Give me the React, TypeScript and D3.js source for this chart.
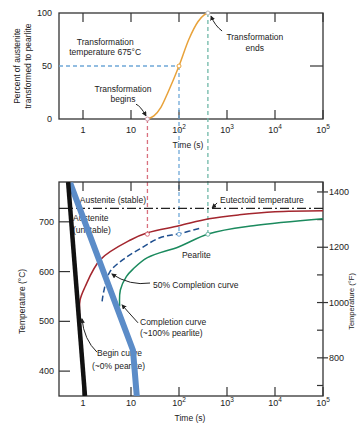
import React from 'react';
import * as d3 from 'd3';

// axes
const decades = [1, 10, 100, 1000, 10000, 100000];
const pctTicks = [0, 50, 100];
const tempTicksC = [400, 500, 600, 700];
const tempTicksF = [700, 800, 900, 1000, 1100, 1200, 1300, 1400];

// top panel: isothermal transformation at 675 °C
const isoTime = [22, 30, 42, 60, 100, 160, 250, 330, 400];
const isoPct = [0, 3, 11, 26, 50, 75, 92, 98, 100];
const isoTemp = 675;
const beginAt = 22;
const halfAt = 100;
const endAt = 400;

// bottom panel: TTT curves
const beginTime = [0.85, 0.87, 1.1, 2.3, 10, 22, 100, 420, 1800, 10000, 100000];
const beginTemp = [510, 543, 569, 624, 664, 678, 692, 706, 714, 720, 722];
const halfTime = [2.5, 2.7, 3.6, 6.8, 15, 40, 100, 300];
const halfTemp = [540, 560, 599, 624, 645, 668, 676, 688];
const endTime = [5.8, 6.0, 8, 11, 22, 100, 420, 3500, 100000];
const endTemp = [530, 563, 590, 605, 628, 650, 676, 692, 706];
const eutectoid = 727;

// cooling paths
const coolATime = [0.49, 1.1];
const coolATemp = [780, 350];
const coolBTime = [0.54, 11, 13.3];
const coolBTemp = [778, 442, 346];

const font = 'Liberation Sans, Arial, sans-serif';
const W = 358;
const H = 427;

const x = d3.scaleLog().domain([10 ** -0.5, 1e5]).range([59, 323]);
const yTop = d3.scaleLinear().domain([0, 100]).range([119, 13]);
const yBot = d3.scaleLinear().domain([350, 780]).range([396, 182]);
const fToC = (f: number) => (f - 32) * 5 / 9;

const zip = (a: number[], b: number[]) => a.map((v, i) => [v, b[i]] as [number, number]);

const botLine = d3.line<[number, number]>()
  .x(d => x(d[0]))
  .y(d => yBot(d[1]))
  .curve(d3.curveCatmullRom.alpha(0.5));
const topLine = d3.line<[number, number]>()
  .x(d => x(d[0]))
  .y(d => yTop(d[1]))
  .curve(d3.curveMonotoneX);
const straight = d3.line<[number, number]>()
  .x(d => x(d[0]))
  .y(d => yBot(d[1]));

const tickLabel = (d: number) => {
  if (d === 1) return <tspan>1</tspan>;
  if (d === 10) return <tspan>10</tspan>;
  return (
    <>
      <tspan>10</tspan>
      <tspan dy={-4} fontSize={6.5}>{Math.round(Math.log10(d))}</tspan>
    </>
  );
};

// leader: [from, control, to] in (time, value)
const leader = (pts: [number, number][], y: (v: number) => number) => {
  const p = pts.map(([t, v]) => [x(t), y(v)]);
  return `M${p[0][0]},${p[0][1]} Q${p[1][0]},${p[1][1]} ${p[2][0]},${p[2][1]}`;
};

const App = () => {
  const xAxisTicks = (y0: number, y1: number, labelY: number, key: string) => (
    <g key={key}>
      {decades.map(d => (
        <g key={d}>
          <line x1={x(d)} x2={x(d)} y1={y0} y2={y0 + 9} stroke="#333" strokeWidth={1.2} />
          <line x1={x(d)} x2={x(d)} y1={y1} y2={y1 - 9} stroke="#333" strokeWidth={1.2} />
          <text x={x(d)} y={labelY} textAnchor="middle" fontSize={9} fill="#222">{tickLabel(d)}</text>
        </g>
      ))}
    </g>
  );

  const dot = (cx: number, cy: number, color: string, key: string) => (
    <circle key={key} cx={cx} cy={cy} r={2} fill="#fff" stroke={color} strokeWidth={1} />
  );

  const pink = '#d9707e';
  const lblue = '#6fa8d8';
  const teal = '#6fb8a8';

  return (
    <svg width={W} height={H} style={{ position: 'fixed', left: 0, top: 0, background: '#fff' }} fontFamily={font}>
      <defs>
        <marker id="arr" viewBox="0 0 6 6" refX={5} refY={3} markerWidth={5} markerHeight={5} orient="auto">
          <path d="M0,0 L6,3 L0,6 z" fill="#222" />
        </marker>
        <clipPath id="botClip">
          <rect x={x.range()[0]} y={yBot.range()[1]} width={x.range()[1] - x.range()[0]} height={yBot.range()[0] - yBot.range()[1]} />
        </clipPath>
      </defs>

      {/* ---------- top panel ---------- */}
      <rect x={59} y={yTop(100)} width={264} height={yTop(0) - yTop(100)} fill="none" stroke="#333" strokeWidth={1.3} />
      {xAxisTicks(yTop(100), yTop(0), 133, 'topx')}
      <line x1={323} x2={310} y1={yTop(50)} y2={yTop(50)} stroke="#333" strokeWidth={1.2} />
      {pctTicks.map(p => (
        <text key={p} x={52} y={yTop(p) + 3} textAnchor="end" fontSize={9} fill="#222">{p}</text>
      ))}
      <text transform={`translate(20,${yTop(50)}) rotate(-90)`} textAnchor="middle" fontSize={8.5} fill="#222">Percent of austenite</text>
      <text transform={`translate(31,${yTop(50)}) rotate(-90)`} textAnchor="middle" fontSize={8.5} fill="#222">transformed to pearlite</text>
      <text x={188} y={148} textAnchor="middle" fontSize={8.5} fill="#222">Time (s)</text>

      {/* guide lines linking the panels */}
      <line x1={59} x2={x(halfAt)} y1={yTop(50)} y2={yTop(50)} stroke={lblue} strokeWidth={1.3} strokeDasharray="4,3" />
      <line x1={x(beginAt)} x2={x(beginAt)} y1={yTop(0)} y2={yBot(isoTemp)} stroke={pink} strokeWidth={1.3} strokeDasharray="4,3" />
      <line x1={x(halfAt)} x2={x(halfAt)} y1={yTop(50)} y2={yBot(isoTemp)} stroke={lblue} strokeWidth={1.3} strokeDasharray="4,3" />
      <line x1={x(endAt)} x2={x(endAt)} y1={yTop(100)} y2={yBot(isoTemp)} stroke={teal} strokeWidth={1.3} strokeDasharray="4,3" />

      <path d={topLine(zip(isoTime, isoPct)) || ''} fill="none" stroke="#e8a23a" strokeWidth={1.5} />
      {dot(x(beginAt), yTop(0), '#c9a', 'tb')}
      {dot(x(halfAt), yTop(50), '#e8a23a', 'th')}
      {dot(x(endAt), yTop(100), '#bbb', 'te')}

      <g fontSize={8.5} fill="#222" textAnchor="middle">
        <text x={x(2.9)} y={yTop(70)}>Transformation</text>
        <text x={x(2.9)} y={yTop(60.5)}>temperature 675°C</text>
        <text x={x(6.8)} y={yTop(25.5)}>Transformation</text>
        <text x={x(6.8)} y={yTop(16)}>begins</text>
        <text x={x(3800)} y={yTop(74.5)}>Transformation</text>
        <text x={x(3800)} y={yTop(64)}>ends</text>
      </g>
      <path d={leader([[12.7, 14], [16, 12], [20.5, 3]], yTop)} fill="none" stroke="#222" strokeWidth={1} markerEnd="url(#arr)" />
      <path d={leader([[790, 83], [560, 88], [465, 97]], yTop)} fill="none" stroke="#222" strokeWidth={1} markerEnd="url(#arr)" />

      {/* ---------- bottom panel ---------- */}
      <rect x={59} y={yBot(780)} width={264} height={yBot(350) - yBot(780)} fill="none" stroke="#333" strokeWidth={1.3} />
      {xAxisTicks(yBot(780), yBot(350), 406, 'botx')}
      <text x={190} y={421} textAnchor="middle" fontSize={8.5} fill="#222">Time (s)</text>
      {tempTicksC.map(t => (
        <g key={t}>
          <line x1={59} x2={70} y1={yBot(t)} y2={yBot(t)} stroke="#333" strokeWidth={1.2} />
          <text x={54} y={yBot(t) + 3} textAnchor="end" fontSize={9} fill="#222">{t}</text>
        </g>
      ))}
      <text transform={`translate(25,${yBot(540)}) rotate(-90)`} textAnchor="middle" fontSize={8.5} fill="#222">Temperature (°C)</text>
      {tempTicksF.map(f => (
        <g key={f}>
          <line x1={317} x2={f % 200 === 0 ? 328 : 323} y1={yBot(fToC(f))} y2={yBot(fToC(f))} stroke="#333" strokeWidth={1.2} />
          {f % 200 === 0 && (
            <text x={329} y={yBot(fToC(f)) + 3} fontSize={9} fill="#222">{f}</text>
          )}
        </g>
      ))}
      <text transform={`translate(354,${yBot(540)}) rotate(-90)`} textAnchor="middle" fontSize={7.5} fill="#222">Temperature (°F)</text>

      <g fontSize={8.5} fill="#222">
        <text x={x(4.2)} y={yBot(738)} textAnchor="middle">Austenite (stable)</text>
        <text x={x(718)} y={yBot(738)}>Eutectoid temperature</text>
        <text x={x(0.62)} y={yBot(701)}>Austenite</text>
        <text x={x(0.62)} y={yBot(678)}>(unstable)</text>
        <text x={x(115)} y={yBot(627)}>Pearlite</text>
        <text x={x(28.7)} y={yBot(568)}>50% Completion curve</text>
        <text x={x(15.4)} y={yBot(492)}>Completion curve</text>
        <text x={x(15.4)} y={yBot(470)}>(~100% pearlite)</text>
        <text x={x(1.96)} y={yBot(430)}>Begin curve</text>
        <text x={x(1.54)} y={yBot(404)}>(~0% pearlite)</text>
      </g>

      <g clipPath="url(#botClip)">
        <line x1={59} x2={323} y1={yBot(eutectoid)} y2={yBot(eutectoid)} stroke="#222" strokeWidth={1.2} strokeDasharray="9,3,2,3" />
        <path d={botLine(zip(beginTime, beginTemp)) || ''} fill="none" stroke="#a3262e" strokeWidth={1.5} />
        <path d={botLine(zip(halfTime, halfTemp)) || ''} fill="none" stroke="#1f4f8f" strokeWidth={1.5} strokeDasharray="6,3" />
        <path d={botLine(zip(endTime, endTemp)) || ''} fill="none" stroke="#1b8a5e" strokeWidth={1.5} />
        <path d={straight(zip(coolBTime, coolBTemp)) || ''} fill="none" stroke="#5b8cc8" strokeWidth={6} strokeLinejoin="round" />
        <path d={straight(zip(coolATime, coolATemp)) || ''} fill="none" stroke="#111" strokeWidth={4.5} />
      </g>
      {dot(x(beginAt), yBot(isoTemp), pink, 'bb')}
      {dot(x(halfAt), yBot(isoTemp), lblue, 'bh')}
      {dot(x(endAt), yBot(isoTemp), teal, 'be')}

      <path d={leader([[620, 738], [560, 733], [490, 728]], yBot)} fill="none" stroke="#222" strokeWidth={1} markerEnd="url(#arr)" />
      <path d={leader([[24.9, 577], [9.5, 571], [4.0, 595]], yBot)} fill="none" stroke="#222" strokeWidth={1} markerEnd="url(#arr)" />
      <path d={leader([[14, 497], [8.7, 519], [6.5, 533]], yBot)} fill="none" stroke="#222" strokeWidth={1} markerEnd="url(#arr)" />
      <path d={leader([[1.96, 438], [1.05, 463], [0.95, 505]], yBot)} fill="none" stroke="#222" strokeWidth={1} markerEnd="url(#arr)" />
    </svg>
  );
};

export default App;
